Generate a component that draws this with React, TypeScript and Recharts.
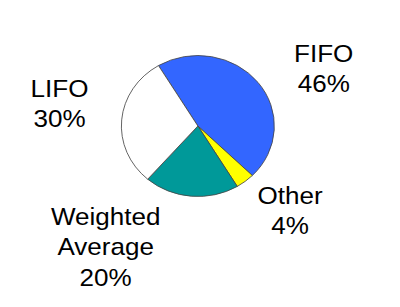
import React from "react";
import { PieChart, Pie, Cell } from "recharts";

const categories = ["FIFO", "Other", "Weighted Average", "LIFO"];
const values = [46, 4, 20, 30];
const colors = ["#3366FF", "#FFFF00", "#009999", "#FFFFFF"];

const data = categories.map((name, i) => ({ name, value: values[i] }));

// label anchor (center x, first baseline y) in chart coordinates
const labelLayout: Record<string, { x: number; y: number; lines: string[] }> = {
  FIFO: { x: 291, y: 54, lines: ["FIFO"] },
  Other: { x: 260, y: 196, lines: ["Other"] },
  "Weighted Average": { x: 90, y: 217, lines: ["Weighted", "Average"] },
  LIFO: { x: 47.5, y: 89, lines: ["LIFO"] },
};

const SX = 1.085;
const W = 361;
const H = 299;

const renderLabel = (props: any) => {
  const { name, value } = props;
  const l = labelLayout[name];
  if (!l) return null;
  const lines = [...l.lines, `${value}%`];
  return (
    <text
      x={l.x}
      y={l.y}
      textAnchor="middle"
      fill="#000"
      fontSize={24}
      fontFamily="'Liberation Sans', Arial, sans-serif"
    >
      {lines.map((t, i) => (
        <tspan key={i} x={l.x} dy={i === 0 ? 0 : 30.5}>
          {t}
        </tspan>
      ))}
    </text>
  );
};

export default function App() {
  return (
    <div
      style={{
        width: W,
        height: H,
        transform: `scale(${SX}, 1)`,
        transformOrigin: "0 0",
        background: "#fff",
      }}
    >
      <PieChart width={W} height={H} margin={{ top: 0, right: 0, bottom: 0, left: 0 }}>
        <Pie
          data={data}
          dataKey="value"
          nameKey="name"
          cx={175}
          cy={118}
          innerRadius={0}
          outerRadius={70.5}
          startAngle={121}
          endAngle={-239}
          stroke="#444"
          strokeWidth={0.8}
          label={renderLabel}
          labelLine={false}
          isAnimationActive={false}
        >
          {data.map((d, i) => (
            <Cell key={d.name} fill={colors[i]} />
          ))}
        </Pie>
      </PieChart>
    </div>
  );
}
